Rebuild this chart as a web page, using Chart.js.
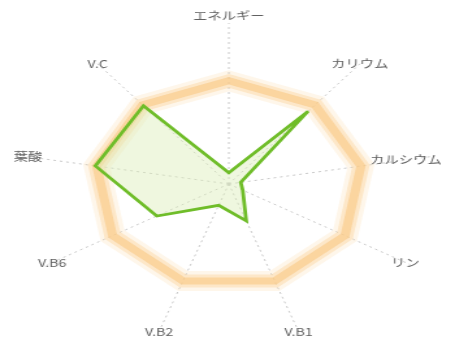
<!DOCTYPE html>
<html>
<head>
<meta charset="utf-8">
<script src="https://cdn.jsdelivr.net/npm/chart.js@4"></script>
<style>
  html, body { margin: 0; padding: 0; background: #fff; overflow: hidden; }
  #wrap { width: 352px; height: 345px; transform: scaleX(1.3); transform-origin: 0 0; }
</style>
</head>
<body>
<div id="wrap"><canvas id="nutriRadar" width="352" height="345"></canvas></div>
<script>
var labels = ["エネルギー", "カリウム", "カルシウム", "リン", "V.B1", "V.B2", "V.B6", "葉酸", "V.C"];
var intake = [11, 92, 9, 12, 38, 22, 62, 101, 99];
var target = [100, 100, 100, 100, 100, 100, 100, 100, 100];

// axis names are drawn by hand so they can sit closer to the ring than chart.js allows
var labelDist = [163, 152, 134, 152, 152, 152, 152, 152, 152];
var axisLabels = {
    id: 'axisLabels',
    afterDraw: function(chart) {
        var scale = chart.scales.r;
        var ctx = chart.ctx;
        ctx.save();
        ctx.font = "11px 'Noto Sans CJK JP', sans-serif";
        ctx.fillStyle = "#616161";
        ctx.textAlign = "center";
        ctx.textBaseline = "middle";
        for (var i = 0; i < labels.length; i++) {
            var p = scale.getPointPositionForValue(i, labelDist[i]);
            ctx.fillText(labels[i], p.x, p.y);
        }
        ctx.restore();
    }
};

var nutriRadar = document.getElementById("nutriRadar");
var myRadarChart = new Chart(nutriRadar, {
    type: 'radar',
    data: {
        labels: labels,
        datasets: [{
            data: intake,
            borderColor: "#6fbd29",
            backgroundColor: "rgba(220,238,185,0.45)",
            borderWidth: 2.8,
            pointRadius: 0,
            fill: true
        }, {
            data: target,
            borderColor: "rgba(252,218,170,0.25)",
            borderWidth: 20,
            pointRadius: 0,
            fill: false
        }, {
            data: target,
            borderColor: "rgba(250,204,140,0.4)",
            borderWidth: 13,
            pointRadius: 0,
            fill: false
        }, {
            data: target,
            borderColor: "rgba(248,190,115,0.65)",
            borderWidth: 7,
            pointRadius: 0,
            fill: false
        }]
    },
    options: {
        responsive: false,
        animation: false,
        layout: { padding: { top: 23 } },
        plugins: {
            legend: { display: false },
            tooltip: { enabled: false }
        },
        scales: {
            r: {
                min: 0,
                max: 156,
                ticks: { display: false },
                grid: { display: false },
                angleLines: {
                    display: true,
                    color: "#c8c8c8",
                    borderDash: [2, 3],
                    lineWidth: 1
                },
                pointLabels: { display: false }
            }
        }
    },
    plugins: [axisLabels]
});
</script>
</body>
</html>
